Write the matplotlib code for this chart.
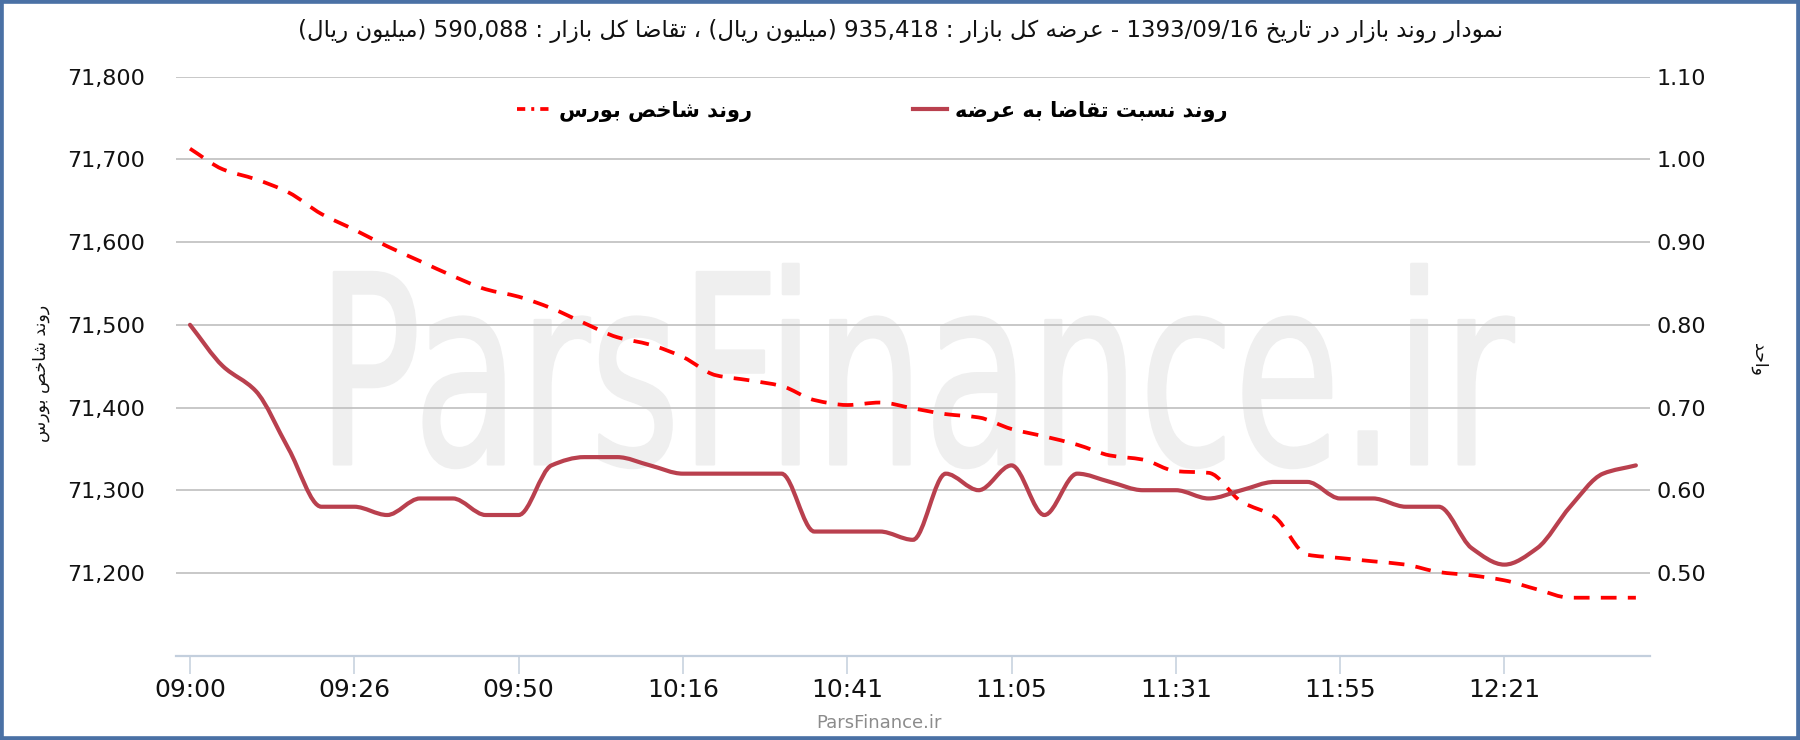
import re
import numpy as np
import matplotlib
matplotlib.use('Agg')
import matplotlib.pyplot as plt
from matplotlib.path import Path
from matplotlib.patches import PathPatch, Rectangle
from matplotlib.lines import Line2D
from matplotlib.textpath import TextPath
from matplotlib.font_manager import FontProperties
from matplotlib.transforms import Affine2D, IdentityTransform

plt.rcParams['font.family'] = ['DejaVu Sans']

# ---- data ----
tick_pos = [0, 5, 10, 15, 20, 25, 30, 35, 40]
tick_labels = ['09:00', '09:26', '09:50', '10:16', '10:41', '11:05', '11:31', '11:55', '12:21']

index_vals = [71713, 71688, 71676, 71660, 71634, 71615, 71595, 71577, 71559, 71543,
              71534, 71520, 71502, 71485, 71476, 71461, 71439, 71433, 71426, 71409,
              71403, 71406, 71399, 71392, 71388, 71374, 71365, 71355, 71342, 71337,
              71323, 71321, 71286, 71268, 71222, 71218, 71214, 71210, 71201, 71197,
              71191, 71180, 71170, 71170, 71170]

ratio_vals = [0.80, 0.75, 0.72, 0.65, 0.58, 0.58, 0.57, 0.59, 0.59, 0.57,
              0.57, 0.63, 0.64, 0.64, 0.63, 0.62, 0.62, 0.62, 0.62, 0.55,
              0.55, 0.55, 0.54, 0.62, 0.60, 0.63, 0.57, 0.62, 0.61, 0.60,
              0.60, 0.59, 0.60, 0.61, 0.61, 0.59, 0.59, 0.58, 0.58, 0.53,
              0.51, 0.53, 0.58, 0.62, 0.63]

left_ticks = [71200, 71300, 71400, 71500, 71600, 71700, 71800]
right_ticks = [0.50, 0.60, 0.70, 0.80, 0.90, 1.00, 1.10]

title_txt = 'نمودار روند بازار در تاریخ 1393/09/16 - عرضه کل بازار : 935,418 (میلیون ریال) ، تقاضا کل بازار : 590,088 (میلیون ریال)'
index_name = 'روند شاخص بورس'
ratio_name = 'روند نسبت تقاضا به عرضه'
right_label = 'واحد'

# ---- simple persian shaping + rtl ordering ----
FORMS = {
    'ا': ('\uFE8D', '\uFE8E', None, None),
    'ب': ('\uFE8F', '\uFE90', '\uFE91', '\uFE92'),
    'ت': ('\uFE95', '\uFE96', '\uFE97', '\uFE98'),
    'ح': ('\uFEA1', '\uFEA2', '\uFEA3', '\uFEA4'),
    'خ': ('\uFEA5', '\uFEA6', '\uFEA7', '\uFEA8'),
    'د': ('\uFEA9', '\uFEAA', None, None),
    'ر': ('\uFEAD', '\uFEAE', None, None),
    'ز': ('\uFEAF', '\uFEB0', None, None),
    'س': ('\uFEB1', '\uFEB2', '\uFEB3', '\uFEB4'),
    'ش': ('\uFEB5', '\uFEB6', '\uFEB7', '\uFEB8'),
    'ص': ('\uFEB9', '\uFEBA', '\uFEBB', '\uFEBC'),
    'ض': ('\uFEBD', '\uFEBE', '\uFEBF', '\uFEC0'),
    'ع': ('\uFEC9', '\uFECA', '\uFECB', '\uFECC'),
    'ق': ('\uFED5', '\uFED6', '\uFED7', '\uFED8'),
    'ل': ('\uFEDD', '\uFEDE', '\uFEDF', '\uFEE0'),
    'م': ('\uFEE1', '\uFEE2', '\uFEE3', '\uFEE4'),
    'ن': ('\uFEE5', '\uFEE6', '\uFEE7', '\uFEE8'),
    'ه': ('\uFEE9', '\uFEEA', '\uFEEB', '\uFEEC'),
    'و': ('\uFEED', '\uFEEE', None, None),
    'ک': ('\uFB8E', '\uFB8F', '\uFB90', '\uFB91'),
    'ی': ('\uFBFC', '\uFBFD', '\uFBFE', '\uFBFF'),
}


def fa(text):
    out = []
    for i, ch in enumerate(text):
        if ch not in FORMS:
            out.append(ch)
            continue
        prev = text[i - 1] if i > 0 else ''
        nxt = text[i + 1] if i < len(text) - 1 else ''
        jp = prev in FORMS and FORMS[prev][2] is not None
        jn = FORMS[ch][2] is not None and nxt in FORMS
        iso, fin, ini, med = FORMS[ch]
        out.append(med if jp and jn else fin if jp else ini if jn else iso)
    toks = re.findall(r'[0-9A-Za-z](?:[0-9A-Za-z/.,]*[0-9A-Za-z])?|.', ''.join(out))
    mirror = {'(': ')', ')': '('}
    return ''.join(mirror.get(t, t) for t in reversed(toks))


def smooth_path(x, y):
    x = np.asarray(x, float)
    y = np.asarray(y, float)
    h = np.diff(x)
    d = np.diff(y) / h
    m = np.zeros_like(y)
    m[0], m[-1] = d[0], d[-1]
    for k in range(1, len(y) - 1):
        if d[k - 1] * d[k] > 0:
            m[k] = 2 / (1 / d[k - 1] + 1 / d[k])
    verts = [(x[0], y[0])]
    codes = [Path.MOVETO]
    for k in range(len(x) - 1):
        verts += [(x[k] + h[k] / 3, y[k] + m[k] * h[k] / 3),
                  (x[k + 1] - h[k] / 3, y[k + 1] - m[k + 1] * h[k] / 3),
                  (x[k + 1], y[k + 1])]
        codes += [Path.CURVE4] * 3
    return Path(verts, codes)


W, H = 1800, 740
fig = plt.figure(figsize=(18, 7.4), dpi=100)
ax = fig.add_axes([176 / W, 1 - 655.6 / H, 1474 / W, (655.6 - 76.7) / H])
ax2 = ax.twinx()

red = '#ff0000'
wine = '#b9404e'
xs = np.arange(len(index_vals))

# watermark
tp = TextPath((0, 0), 'ParsFinance.ir', size=100,
              prop=FontProperties(family=['Liberation Sans Narrow', 'DejaVu Sans']))
ext = tp.get_extents()
tr = (Affine2D().translate(-ext.x0, -ext.y0)
      .scale((1514 - 334) / ext.width, (468 - 264) / ext.height)
      .translate(334, H - 468))
wm = PathPatch(tr.transform_path(tp), transform=IdentityTransform(),
               fc='#efefef', ec='#efefef', lw=1.8, joinstyle='round', zorder=0.2)
ax.add_artist(wm)

ax.add_patch(PathPatch(smooth_path(xs, index_vals), fill=False, ec=red, lw=2.7,
                       linestyle=(0, (4.2, 3.0)), capstyle='butt', zorder=3))
ax2.add_patch(PathPatch(smooth_path(xs, ratio_vals), fill=False, ec=wine, lw=3.0,
                        zorder=3, capstyle='round'))

ax.set_xlim(-0.426, len(xs) - 1 + 0.43)
ax.set_ylim(71100, 71800)
ax2.set_ylim(0.40, 1.10)

ax.set_yticks(left_ticks)
ax.set_yticklabels([f'{v:,}' for v in left_ticks])
ax2.set_yticks(right_ticks)
ax2.set_yticklabels([f'{v:.2f}' for v in right_ticks])
ax.set_xticks(tick_pos)
ax.set_xticklabels(tick_labels)

ax.set_axisbelow(True)
ax.yaxis.grid(True, color='#bfbfbf', lw=1.2)
for a in (ax, ax2):
    for s in ('left', 'right', 'top', 'bottom'):
        a.spines[s].set_visible(False)
ax.spines['bottom'].set_visible(True)
ax.spines['bottom'].set_color('#c3cfdd')
ax.spines['bottom'].set_linewidth(1.6)

ax.tick_params(axis='y', length=0, pad=22, labelsize=16, labelcolor='#111111')
ax2.tick_params(axis='y', length=0, pad=5, labelsize=16, labelcolor='#111111')
ax.tick_params(axis='x', length=13, width=1.1, color='#c3cfdd', pad=3,
               labelsize=18, labelcolor='#111111')

fig.text(900 / W, 1 - 31 / H, fa(title_txt), ha='center', va='center',
         fontsize=16.5, color='#111111')
fig.text(41 / W, 1 - 373 / H, fa(index_name), rotation=90, ha='center',
         va='center', fontsize=12.5, color='#111111')
fig.text(1759 / W, 1 - 359 / H, fa(right_label), rotation=-90, ha='center',
         va='center', fontsize=12.5, color='#111111')
fig.text(879 / W, 1 - 723 / H, 'ParsFinance.ir', ha='center', va='center',
         fontsize=13, color='#8c8c8c',
         family=['Liberation Sans Narrow', 'DejaVu Sans'])

handles = [Line2D([], [], color=red, lw=2.7, dashes=(2.2, 1.6, 0.8, 1.6)),
           Line2D([], [], color=wine, lw=3.0)]
fs = 15
fpx = fs * 100 / 72
fig.legend(handles, [fa(index_name), fa(ratio_name)], ncol=2, loc='center left',
           bbox_to_anchor=(517 / W, 1 - 111 / H), frameon=False,
           prop=FontProperties(family=['DejaVu Sans'], weight='bold', size=fs),
           borderpad=0, borderaxespad=0, handlelength=34 / fpx,
           handletextpad=8 / fpx, columnspacing=161 / fpx)

fig.add_artist(Rectangle((0, 0), 1, 1, transform=fig.transFigure, fill=False,
                         ec='#4a71a5', lw=5.5))

fig.savefig('out.png', dpi=100, facecolor='white')
